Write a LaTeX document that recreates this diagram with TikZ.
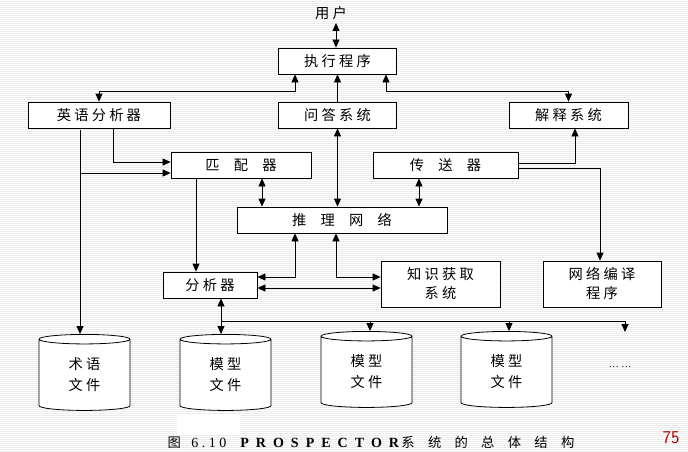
\documentclass[tikz,border=0pt]{standalone}
\usepackage{fontspec}
\setmainfont{Liberation Serif}
\newfontfamily\cjk{Noto Sans CJK SC}[Scale=0.95]
\usetikzlibrary{arrows.meta,shapes.geometric}
\tikzset{
  box/.style={draw,thick,fill=white,inner sep=0pt,font=\cjk\fontsize{15}{17}\selectfont},
  file/.style={draw,thick,fill=white,cylinder,shape border rotate=90,aspect=0.3,
    minimum width=91pt,minimum height=76pt,inner sep=0pt,align=left,
    font=\cjk\fontsize{15}{21}\selectfont},
  link/.style={thick,>={Triangle[length=8pt,width=7pt]}},
}
\begin{document}
\begin{tikzpicture}[x=1pt,y=-1pt]
  \useasboundingbox (0,0) rectangle (688,452);
  % striped background
  \fill[white] (0,0) rectangle (688,452);
  \foreach \y in {1,3,...,451}
    \draw[black!8,line width=0.6pt] (0,\y) -- (688,\y);
  \fill[white] (177,415) rectangle (240,434);
  % nodes
  \node (user) [font=\cjk\fontsize{15}{17}\selectfont] at (331,13) {用\ 户};
  \node (exec) [box,minimum width=118pt,minimum height=26pt] at (337.5,61) {执\ 行\ 程\ 序};
  \node (eng) [box,minimum width=142pt,minimum height=26pt] at (99,115) {英\ 语\ 分\ 析\ 器};
  \node (qa) [box,minimum width=118pt,minimum height=26pt] at (337.5,115) {问\ 答\ 系\ 统};
  \node (expl) [box,minimum width=119pt,minimum height=26pt] at (568.5,115) {解\ 释\ 系\ 统};
  \node (match) [box,minimum width=140pt,minimum height=26pt] at (241,165) {匹\quad 配\quad 器};
  \node (send) [box,minimum width=145pt,minimum height=26pt] at (445.5,165) {传\quad 送\quad 器};
  \node (infer) [box,minimum width=210pt,minimum height=26pt] at (342,220) {推\quad 理\quad 网\quad 络};
  \node (anal) [box,minimum width=94pt,minimum height=26pt] at (210,285) {分\ 析\ 器};
  \node (know) [box,minimum width=119pt,minimum height=46pt,align=center,
    font=\cjk\fontsize{15}{19}\selectfont] at (440.5,284) {知\ 识\ 获\ 取\\系\ 统};
  \node (comp) [box,minimum width=118pt,minimum height=46pt,align=center,
    font=\cjk\fontsize{15}{19}\selectfont] at (602,284) {网\ 络\ 编\ 译\\程\ 序};
  \node (term) [file] at (84.5,375) {术\ 语\\文\ 件};
  \node (mod1) [file] at (225.5,375) {模\ 型\\文\ 件};
  \node (mod2) [file] at (366.5,372) {模\ 型\\文\ 件};
  \node (mod3) [file] at (506.5,372) {模\ 型\\文\ 件};
  \node (more) [font=\fontsize{10}{10}\selectfont] at (620,367) {\dots\ \dots};
  \coordinate (bus) at (625,321);
  % connectors
  \draw[link,<->] (336,23) -- (exec.north -| 336,0);
  \draw[link,<->] (eng.north) |- (295,91) -- (exec.south -| 295,0);
  \draw[link,->] (qa.north) -- (exec.south -| qa);
  \draw[link,<->] (expl.north) |- (386,91) -- (exec.south -| 386,0);
  \draw[link,->] (eng.south -| 113,0) |- (match.west |- 0,162);
  \draw[link,->] (eng.south -| 80,0) ++(0,2) -- (term.north -| 80,0);
  \draw[link,->] (80,173) -- (match.west |- 0,173);
  \draw[link,<->] (qa.south) -- (infer.north -| qa);
  \draw[link,<->] (match.south -| 262,0) -- (infer.north -| 262,0);
  \draw[link,<->] (send.south -| 419,0) -- (infer.north -| 419,0);
  \draw[link,->] (send.east |- 0,163) -| (expl.south -| 575,0);
  \draw[link,->] (send.east |- 0,168) -| (comp.north -| 600,0);
  \draw[link,->] (match.south -| 196,0) -- (anal.north -| 196,0);
  \draw[link,<->] (infer.south -| 295,0) |- (anal.east |- 0,277);
  \draw[link,<->] (infer.south -| 336,0) |- (know.west |- 0,277);
  \draw[link,<->] (anal.east |- 0,288) -- (know.west |- 0,288);
  \draw[link,<->] (anal.south -| 221,0) -- (mod1.north -| 221,0);
  \draw[thick] (221,321) -- (bus);
  \draw[link,->] (370,321) -- (mod2.north -| 370,0);
  \draw[link,->] (509,321) -- (mod3.north -| 509,0);
  \draw[link,->] (bus) -- ++(0,11);
  % caption
  \node (cap) at (371,442) {\fontsize{14}{16}\selectfont
    {\cjk 图}\ \ \ 6\ .\ 1\ 0\ \ \ \ \textbf{P\ \ R\ \ O\ \ S\ \ P\ \ E\ \ C\ \ T\ \ O\ \ R}{\cjk \,系\quad 统\quad 的\quad 总\quad 体\quad 结\quad 构}};
  \node (page) [text=red!70!black,font=\sffamily\fontsize{18}{18}\selectfont] at (671,438) {75};
\end{tikzpicture}
\end{document}
